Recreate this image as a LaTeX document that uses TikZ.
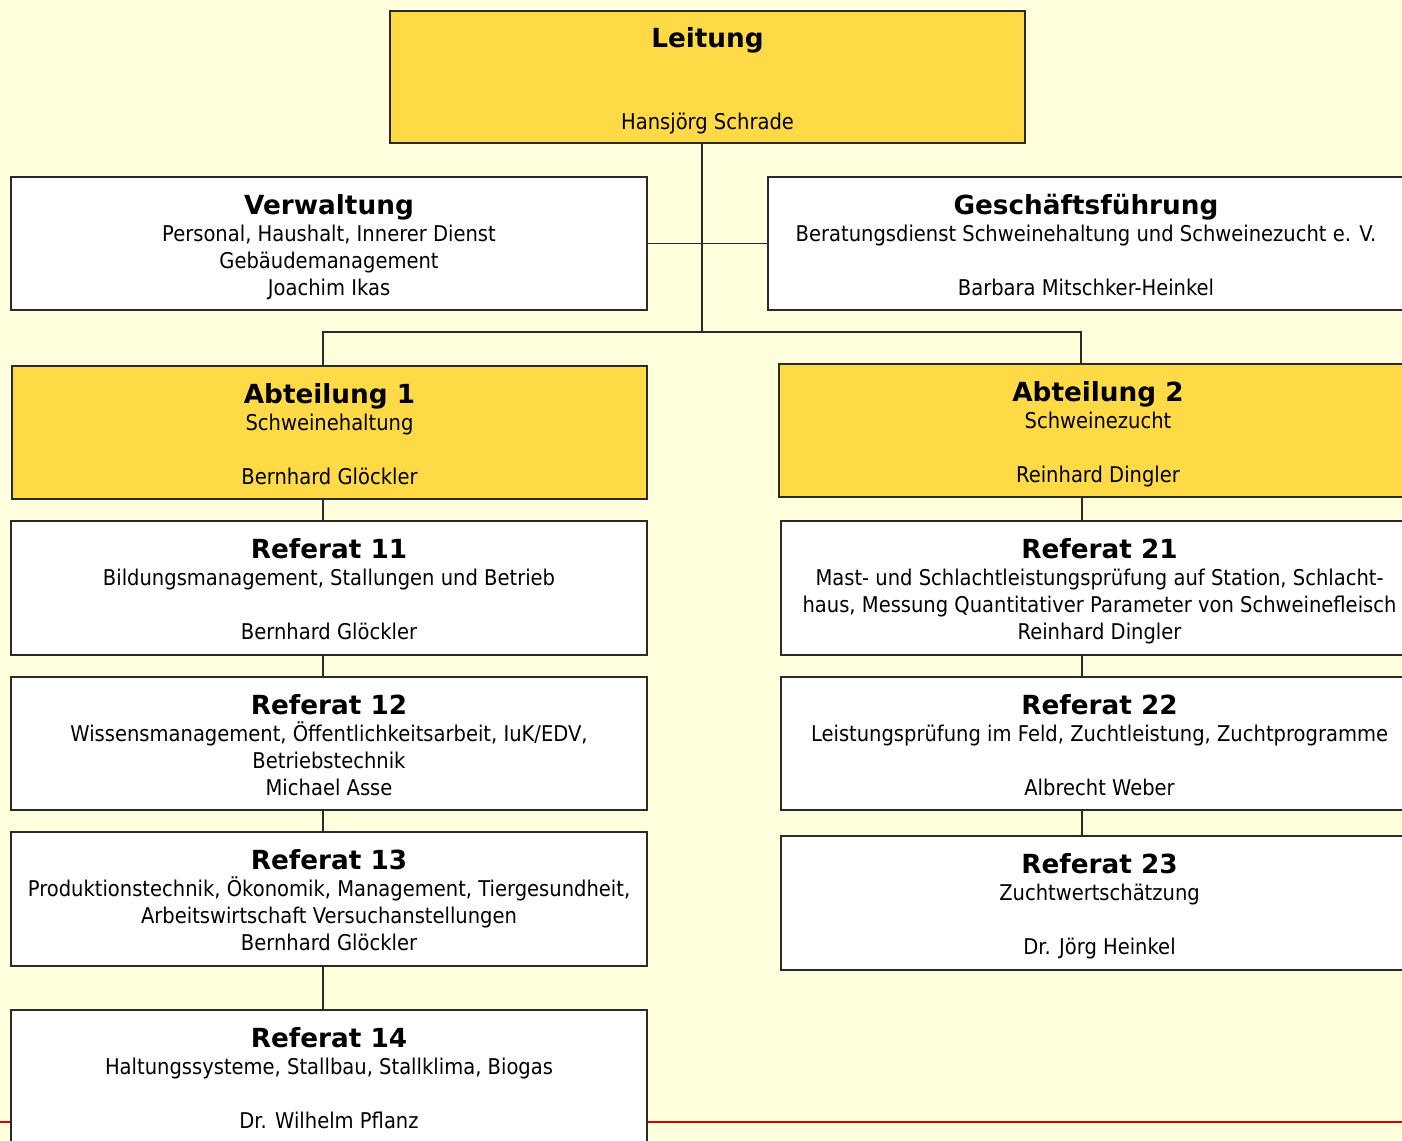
\documentclass[tikz,border=0pt]{standalone}
\usepackage{fontspec}
\setmainfont{DejaVu Sans}[FakeStretch=0.9]
\newfontfamily\ttlfam{DejaVu Sans}
\definecolor{bgcol}{HTML}{FFFFDD}
\definecolor{boxyellow}{HTML}{FFDA47}
\definecolor{linecol}{HTML}{2A2A2A}
\definecolor{redcol}{HTML}{D40000}
\newcommand\ttlfont{\ttlfam\fontsize{26.3}{30}\selectfont\bfseries}
\newcommand\bodyfont{\fontsize{21.7}{27}\selectfont}
\tikzset{
  box/.style={draw=linecol, line width=1.3pt, inner sep=0pt, outer sep=0pt, anchor=north west},
  yel/.style={box, fill=boxyellow},
  wht/.style={box, fill=white},
  ttl/.style={font=\ttlfont, inner sep=0pt, anchor=base},
  txt/.style={font=\bodyfont, inner sep=0pt, anchor=base},
  conn/.style={draw=linecol, line width=1.3pt},
  redline/.style={draw=redcol, line width=2pt}
}
% name, style, {x,y}, w, h, title, l1, l2, l3
\newcommand\obox[9]{%
  \node[#2, minimum width=#4pt, minimum height=#5pt] (#1) at (#3) {};
  \node[ttl] (#1-t) at ([yshift=-37pt]#1.north) {#6};
  \node[txt] (#1-a) at ([yshift=-64pt]#1.north) {#7};
  \node[txt] (#1-b) at ([yshift=-91pt]#1.north) {#8};
  \node[txt] (#1-c) at ([yshift=-118pt]#1.north) {#9};
}
\begin{document}
\begin{tikzpicture}[x=1pt,y=-1pt]
\path[use as bounding box] (0,0) rectangle (1402,1140);
\clip (0,0) rectangle (1402,1140);
\fill[bgcol] (0,0) rectangle (1402,1140);
\coordinate (rl) at (0,1122);
\coordinate (rr) at (1402,1122);
\draw[redline] (rl) -- (rr);

\obox{leit}{yel}{390,11}{635}{132}{Leitung}{}{}{Hansjörg Schrade}
\obox{verw}{wht}{11,177}{636}{133}{Verwaltung}{Personal, Haushalt, Innerer Dienst}{Gebäudemanagement}{Joachim Ikas}
\obox{gesch}{wht}{768,177}{636}{133}{Geschäftsführung}{Beratungsdienst Schweinehaltung und Schweinezucht e. V.}{}{Barbara Mitschker-Heinkel}
\obox{abt1}{yel}{12,366}{635}{133}{Abteilung 1}{Schweinehaltung}{}{Bernhard Glöckler}
\obox{abt2}{yel}{779,364}{638}{133}{Abteilung 2}{Schweinezucht}{}{Reinhard Dingler}
\obox{ref11}{wht}{11,521}{636}{134}{Referat 11}{Bildungsmanagement, Stallungen und Betrieb}{}{Bernhard Glöckler}
\obox{ref12}{wht}{11,677}{636}{133}{Referat 12}{Wissensmanagement, Öffentlichkeitsarbeit, IuK/EDV,}{Betriebstechnik}{Michael Asse}
\obox{ref13}{wht}{11,832}{636}{134}{Referat 13}{Produktionstechnik, Ökonomik, Management, Tiergesundheit,}{Arbeitswirtschaft Versuchanstellungen}{Bernhard Glöckler}
\obox{ref14}{wht}{11,1010}{636}{140}{Referat 14}{Haltungssysteme, Stallbau, Stallklima, Biogas}{}{Dr. Wilhelm Pflanz}
\obox{ref21}{wht}{781,521}{637}{134}{Referat 21}{Mast- und Schlachtleistungsprüfung auf Station, Schlacht-}{haus, Messung Quantitativer Parameter von Schweinefleisch}{Reinhard Dingler}
\obox{ref22}{wht}{781,677}{637}{133}{Referat 22}{Leistungsprüfung im Feld, Zuchtleistung, Zuchtprogramme}{}{Albrecht Weber}
\obox{ref23}{wht}{781,836}{637}{134}{Referat 23}{Zuchtwertschätzung}{}{Dr. Jörg Heinkel}

\coordinate (jtop) at (702,332);
\coordinate (jl) at (323,332);
\coordinate (jr) at (1081,332);
\coordinate (xr) at (1082,0);
\draw[conn] (leit.south -| jtop) -- (jtop);
\draw[conn] (verw.east) -- (gesch.west);
\draw[conn] (abt1.north -| jl) |- (jr) -- (abt2.north -| jr);
\draw[conn] (abt1.south -| jl) -- (ref11.north -| jl);
\draw[conn] (ref11.south -| jl) -- (ref12.north -| jl);
\draw[conn] (ref12.south -| jl) -- (ref13.north -| jl);
\draw[conn] (ref13.south -| jl) -- (ref14.north -| jl);
\draw[conn] (abt2.south -| xr) -- (ref21.north -| xr);
\draw[conn] (ref21.south -| xr) -- (ref22.north -| xr);
\draw[conn] (ref22.south -| xr) -- (ref23.north -| xr);
\end{tikzpicture}
\end{document}
